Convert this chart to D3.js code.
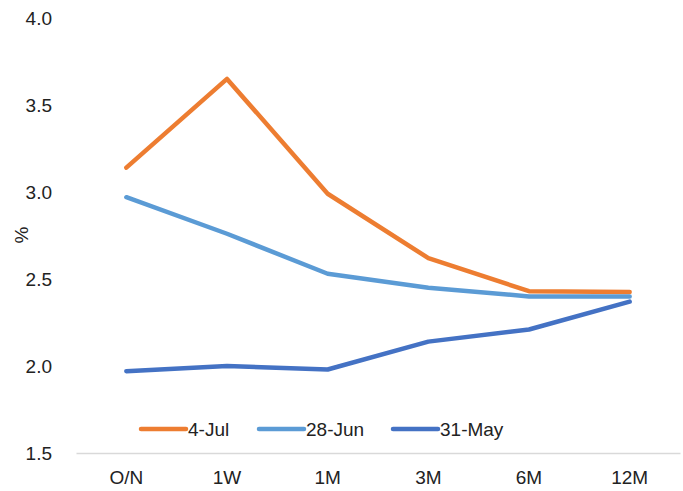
<!DOCTYPE html>
<meta charset="utf-8">
<head>
  <style>
    body { margin: 0; background: #fff; }
    svg { font-family: "Liberation Sans", Arial, sans-serif; }
    .axis text { font-size: 19px; fill: #222; }
    .line { fill: none; stroke-width: 4.5px; stroke-linecap: round; stroke-linejoin: round; }
  </style>
  <script src="https://cdn.jsdelivr.net/npm/d3@7"></script>
</head>
<body>
  <script>
    var tenors = ["O/N", "1W", "1M", "3M", "6M", "12M"];
    var seriesNames = ["4-Jul", "28-Jun", "31-May"];
    var jul4  = [3.14, 3.65, 2.99, 2.62, 2.43, 2.425];
    var jun28 = [2.97, 2.76, 2.53, 2.45, 2.40, 2.40];
    var may31 = [1.97, 2.00, 1.98, 2.14, 2.21, 2.37];
    var yTicks = [1.5, 2.0, 2.5, 3.0, 3.5, 4.0];
    var colors = ["#ED7D31", "#5B9BD5", "#4472C4"];

    var width = 683, height = 491
      , margin = {top: 18, right: 3, bottom: 38, left: 76};

    var svg = d3.select("body").append("svg")
        .attr("width", width)
        .attr("height", height);

    var x = d3.scaleBand()
        .domain(tenors)
        .range([margin.left, width - margin.right]);

    var y = d3.scaleLinear()
        .domain([1.5, 4.0])
        .range([height - margin.bottom, margin.top]);

    // y axis (labels only)
    var yAxis = svg.append("g")
        .attr("class", "axis")
        .attr("transform", "translate(" + (margin.left - 24) + ",0)")
        .call(d3.axisLeft(y).tickValues(yTicks).tickFormat(d3.format(".1f")).tickSize(0).tickPadding(0));
    yAxis.select(".domain").remove();
    yAxis.selectAll("text").attr("dy", "0.35em");

    // x axis
    var xAxis = svg.append("g")
        .attr("class", "axis")
        .attr("transform", "translate(0," + y(1.5) + ")")
        .call(d3.axisBottom(x).tickSize(0).tickPadding(18));
    xAxis.select(".domain").attr("stroke", "#d9d9d9").attr("stroke-width", 1.5);

    svg.append("text")
        .attr("transform", "translate(21.5," + 235 + ")rotate(-90)")
        .attr("text-anchor", "middle")
        .attr("dy", "0.35em")
        .style("font-size", "19px")
        .style("fill", "#222")
        .text("%");

    var line = d3.line()
        .x(function(d, i) { return x(tenors[i]) + x.bandwidth() / 2; })
        .y(function(d) { return y(d); });

    var data = [jul4, jun28, may31];

    svg.selectAll(".line")
        .data(data)
      .enter().append("path")
        .attr("class", "line")
        .attr("stroke", function(d, i) { return colors[i]; })
        .attr("d", line);

    // legend
    var legendX = [141, 259, 393];
    var lg = svg.selectAll(".legend")
        .data(seriesNames)
      .enter().append("g")
        .attr("class", "legend")
        .attr("transform", function(d, i) { return "translate(" + legendX[i] + ",429)"; });

    lg.append("line")
        .attr("x1", 0).attr("x2", 45)
        .attr("stroke", function(d, i) { return colors[i]; })
        .attr("stroke-width", 4.5)
        .attr("stroke-linecap", "round");

    lg.append("text")
        .attr("x", 47)
        .attr("dy", "0.35em")
        .style("font-size", "19px")
        .style("fill", "#222")
        .text(function(d) { return d; });
  </script>
</body>
